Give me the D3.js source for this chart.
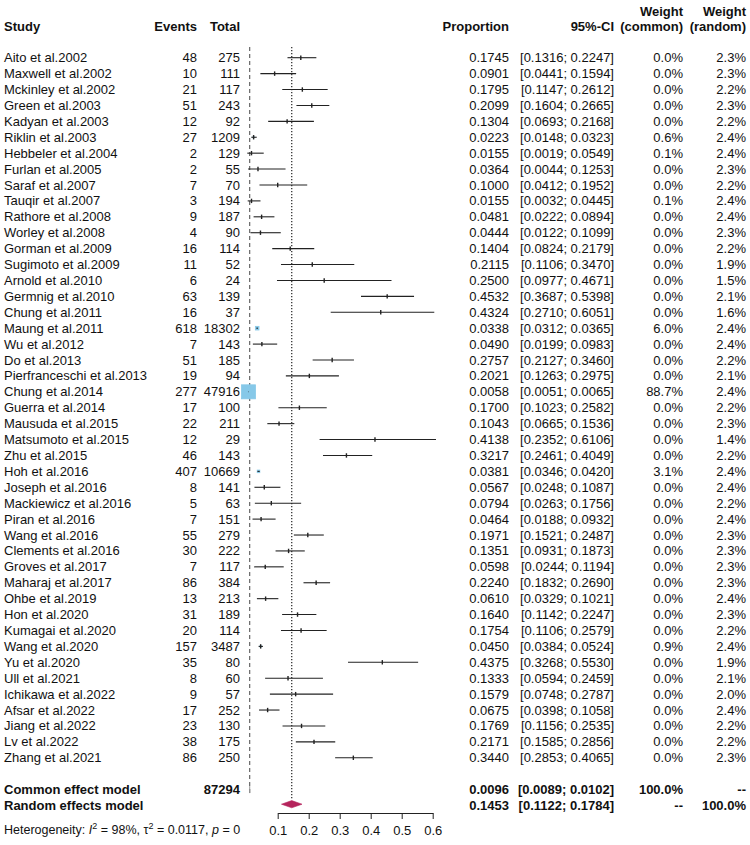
<!DOCTYPE html>
<html>
<head>
<meta charset="utf-8">
<script src="https://cdn.jsdelivr.net/npm/d3@7"></script>
<style>
  body { margin: 0; background: #fff; }
  svg text { font-family: "Liberation Sans", Arial, sans-serif; font-size: 13px; fill: #111; }
  .bold { font-weight: bold; }
</style>
</head>
<body>
<svg id="chart"></svg>
<script>
const studies = ['Aito et al.2002', 'Maxwell et al.2002', 'Mckinley et al.2002', 'Green et al.2003', 'Kadyan et al.2003',
  'Riklin et al.2003', 'Hebbeler et al.2004', 'Furlan et al.2005', 'Saraf et al.2007', 'Tauqir et al.2007',
  'Rathore et al.2008', 'Worley et al.2008', 'Gorman et al.2009', 'Sugimoto et al.2009', 'Arnold et al.2010',
  'Germnig et al.2010', 'Chung et al.2011', 'Maung et al.2011', 'Wu et al.2012', 'Do et al.2013',
  'Pierfranceschi et al.2013', 'Chung et al.2014', 'Guerra et al.2014', 'Mausuda et al.2015', 'Matsumoto et al.2015',
  'Zhu et al.2015', 'Hoh et al.2016', 'Joseph et al.2016', 'Mackiewicz et al.2016', 'Piran et al.2016',
  'Wang et al.2016', 'Clements et al.2016', 'Groves et al.2017', 'Maharaj et al.2017', 'Ohbe et al.2019',
  'Hon et al.2020', 'Kumagai et al.2020', 'Wang et al.2020', 'Yu et al.2020', 'Ull et al.2021',
  'Ichikawa et al.2022', 'Afsar et al.2022', 'Jiang et al.2022', 'Lv et al.2022', 'Zhang et al.2021'];
const events = [48, 10, 21, 51, 12, 27, 2, 2, 7, 3, 9, 4, 16, 11, 6, 63, 16, 618, 7, 51, 19, 277, 17, 22, 12, 46, 407, 8, 5, 7,
  55, 30, 7, 86, 13, 31, 20, 157, 35, 8, 9, 17, 23, 38, 86];
const totals = [275, 111, 117, 243, 92, 1209, 129, 55, 70, 194, 187, 90, 114, 52, 24, 139, 37, 18302, 143, 185, 94, 47916,
  100, 211, 29, 143, 10669, 141, 63, 151, 279, 222, 117, 384, 213, 189, 114, 3487, 80, 60, 57, 252, 130, 175, 250];
const proportion = [0.1745, 0.0901, 0.1795, 0.2099, 0.1304, 0.0223, 0.0155, 0.0364, 0.1000, 0.0155, 0.0481, 0.0444,
  0.1404, 0.2115, 0.2500, 0.4532, 0.4324, 0.0338, 0.0490, 0.2757, 0.2021, 0.0058, 0.1700, 0.1043, 0.4138, 0.3217,
  0.0381, 0.0567, 0.0794, 0.0464, 0.1971, 0.1351, 0.0598, 0.2240, 0.0610, 0.1640, 0.1754, 0.0450, 0.4375, 0.1333,
  0.1579, 0.0675, 0.1769, 0.2171, 0.3440];
const ciLower = [0.1316, 0.0441, 0.1147, 0.1604, 0.0693, 0.0148, 0.0019, 0.0044, 0.0412, 0.0032, 0.0222, 0.0122,
  0.0824, 0.1106, 0.0977, 0.3687, 0.2710, 0.0312, 0.0199, 0.2127, 0.1263, 0.0051, 0.1023, 0.0665, 0.2352, 0.2461,
  0.0346, 0.0248, 0.0263, 0.0188, 0.1521, 0.0931, 0.0244, 0.1832, 0.0329, 0.1142, 0.1106, 0.0384, 0.3268, 0.0594,
  0.0748, 0.0398, 0.1156, 0.1585, 0.2853];
const ciUpper = [0.2247, 0.1594, 0.2612, 0.2665, 0.2168, 0.0323, 0.0549, 0.1253, 0.1952, 0.0445, 0.0894, 0.1099,
  0.2179, 0.3470, 0.4671, 0.5398, 0.6051, 0.0365, 0.0983, 0.3460, 0.2975, 0.0065, 0.2582, 0.1536, 0.6106, 0.4049,
  0.0420, 0.1087, 0.1756, 0.0932, 0.2487, 0.1873, 0.1194, 0.2690, 0.1021, 0.2247, 0.2579, 0.0524, 0.5530, 0.2459,
  0.2787, 0.1058, 0.2535, 0.2856, 0.4065];
const weightCommon = [0.0, 0.0, 0.0, 0.0, 0.0, 0.6, 0.1, 0.0, 0.0, 0.1, 0.0, 0.0, 0.0, 0.0, 0.0, 0.0, 0.0, 6.0, 0.0, 0.0,
  0.0, 88.7, 0.0, 0.0, 0.0, 0.0, 3.1, 0.0, 0.0, 0.0, 0.0, 0.0, 0.0, 0.0, 0.0, 0.0, 0.0, 0.9, 0.0, 0.0, 0.0, 0.0, 0.0, 0.0, 0.0];
const weightRandom = [2.3, 2.3, 2.2, 2.3, 2.2, 2.4, 2.4, 2.3, 2.2, 2.4, 2.4, 2.3, 2.2, 1.9, 1.5, 2.1, 1.6, 2.4, 2.4, 2.2,
  2.1, 2.4, 2.2, 2.3, 1.4, 2.2, 2.4, 2.4, 2.2, 2.4, 2.3, 2.3, 2.3, 2.3, 2.4, 2.3, 2.2, 2.4, 1.9, 2.1, 2.0, 2.4, 2.2, 2.2, 2.3];
const commonModel = { est: 0.0096, lo: 0.0089, hi: 0.0102, total: 87294 };
const randomModel = { est: 0.1453, lo: 0.1122, hi: 0.1784 };
const xTicks = [0.1, 0.2, 0.3, 0.4, 0.5, 0.6];

const width = 750, height = 845;
const svg = d3.select('#chart').attr('width', width).attr('height', height);

const x = d3.scaleLinear().domain([0, 0.6]).range([246.7, 432.7]);
// row index -> y centre (45 studies, one blank row, then the two models)
const y = d3.scaleLinear().domain([0, 47]).range([57.7, 805.5]);

const col = { study: 4, events: 197, total: 240, prop: 509, ci: 614, wc: 683, wr: 746 };
const fmt4 = d3.format('.4f');
const fmt1 = d => d3.format('.1f')(d) + '%';
const ciText = (lo, hi) => `[${fmt4(lo)}; ${fmt4(hi)}]`;

function cell(g, xPos, yPos, txt, anchor, bold) {
  g.append('text')
    .attr('x', xPos).attr('y', yPos).attr('dy', '0.35em')
    .attr('text-anchor', anchor)
    .attr('class', bold ? 'bold' : null)
    .text(txt);
}

// header
const head = svg.append('g');
cell(head, col.study, 26.7, 'Study', 'start', true);
cell(head, col.events, 26.7, 'Events', 'end', true);
cell(head, col.total, 26.7, 'Total', 'end', true);
cell(head, col.prop, 26.7, 'Proportion', 'end', true);
cell(head, col.ci, 26.7, '95%-CI', 'end', true);
cell(head, col.wc, 11.7, 'Weight', 'end', true);
cell(head, col.wc, 26.7, '(common)', 'end', true);
cell(head, col.wr, 11.7, 'Weight', 'end', true);
cell(head, col.wr, 26.7, '(random)', 'end', true);

// reference lines
svg.append('line')
  .attr('x1', x(commonModel.est)).attr('x2', x(commonModel.est))
  .attr('y1', 47).attr('y2', 795)
  .attr('stroke', '#666').attr('stroke-width', 1.2).attr('stroke-dasharray', '4,3');
svg.append('line')
  .attr('x1', x(randomModel.est)).attr('x2', x(randomModel.est))
  .attr('y1', 47).attr('y2', 800)
  .attr('stroke', '#222').attr('stroke-width', 1.2).attr('stroke-dasharray', '1.2,1.8');

// study rows
const rows = svg.append('g');
studies.forEach((s, i) => {
  const yy = y(i);
  cell(rows, col.study, yy, s, 'start');
  cell(rows, col.events, yy, events[i], 'end');
  cell(rows, col.total, yy, totals[i], 'end');
  cell(rows, col.prop, yy, fmt4(proportion[i]), 'end');
  cell(rows, col.ci, yy, ciText(ciLower[i], ciUpper[i]), 'end');
  cell(rows, col.wc, yy, fmt1(weightCommon[i]), 'end');
  cell(rows, col.wr, yy, fmt1(weightRandom[i]), 'end');
});

const marks = svg.append('g');
const sq = w => 14 * Math.sqrt(w / 88.7);
marks.selectAll('rect.box')
  .data(studies.map((s, i) => i).filter(i => weightCommon[i] > 0.5))
  .enter().append('rect')
  .attr('class', 'box')
  .attr('x', i => x(proportion[i]) - sq(weightCommon[i]) / 2)
  .attr('y', i => y(i) - sq(weightCommon[i]) / 2)
  .attr('width', i => sq(weightCommon[i]))
  .attr('height', i => sq(weightCommon[i]))
  .attr('fill', '#86c8e8').attr('stroke', '#86c8e8').attr('stroke-width', 0.8);

marks.selectAll('line.ci')
  .data(studies.map((s, i) => i))
  .enter().append('line')
  .attr('class', 'ci')
  .attr('x1', i => x(ciLower[i])).attr('x2', i => x(ciUpper[i]))
  .attr('y1', i => y(i)).attr('y2', i => y(i))
  .attr('stroke', '#222').attr('stroke-width', 1.1);

marks.selectAll('line.est')
  .data(studies.map((s, i) => i).filter(i => weightCommon[i] < 2))
  .enter().append('line')
  .attr('class', 'est')
  .attr('x1', i => x(proportion[i])).attr('x2', i => x(proportion[i]))
  .attr('y1', i => y(i) - 2.2).attr('y2', i => y(i) + 2.2)
  .attr('stroke', '#222').attr('stroke-width', 1.4);

// summary rows
const yc = y(46), yr = y(47);
cell(rows, col.study, yc, 'Common effect model', 'start', true);
cell(rows, col.total, yc, commonModel.total, 'end', true);
cell(rows, col.prop, yc, fmt4(commonModel.est), 'end', true);
cell(rows, col.ci, yc, ciText(commonModel.lo, commonModel.hi), 'end', true);
cell(rows, col.wc, yc, '100.0%', 'end', true);
cell(rows, col.wr, yc, '--', 'end', true);
cell(rows, col.study, yr, 'Random effects model', 'start', true);
cell(rows, col.prop, yr, fmt4(randomModel.est), 'end', true);
cell(rows, col.ci, yr, ciText(randomModel.lo, randomModel.hi), 'end', true);
cell(rows, col.wc, yr, '--', 'end', true);
cell(rows, col.wr, yr, '100.0%', 'end', true);

const diamond = (m, yy, h) => [[x(m.lo), yy], [x(m.est), yy - h], [x(m.hi), yy], [x(m.est), yy + h]];
marks.append('polygon')
  .attr('points', diamond(commonModel, yc, 3.5).join(' '))
  .attr('fill', '#999').attr('stroke', '#999').attr('stroke-width', 0.6);
marks.append('polygon')
  .attr('points', diamond(randomModel, yr - 1.3, 3.6).join(' '))
  .attr('fill', '#b5245c').attr('stroke', '#b5245c').attr('stroke-width', 0.6);

// x axis
const xAxisScale = d3.scaleLinear().domain([0.1, 0.6]).range([x(0.1), x(0.6)]);
const axis = svg.append('g')
  .attr('transform', 'translate(0, 813)')
  .call(d3.axisBottom(xAxisScale).tickValues(xTicks).tickFormat(d3.format('.1f')).tickSize(6).tickSizeOuter(0).tickPadding(7));
axis.select('.domain').attr('stroke', '#222');
axis.selectAll('.tick line').attr('stroke', '#222');
axis.selectAll('.tick text').attr('font-size', 13).attr('fill', '#111')
  .attr('font-family', '"Liberation Sans", Arial, sans-serif');

// heterogeneity
const het = svg.append('text').attr('x', 4).attr('y', 830).attr('dy', '0.35em').style('font-size', '12.5px');
het.append('tspan').text('Heterogeneity: ');
het.append('tspan').attr('font-style', 'italic').text('I');
het.append('tspan').attr('baseline-shift', 'super').style('font-size', '9px').text('2');
het.append('tspan').text(' = 98%, \u03c4');
het.append('tspan').attr('baseline-shift', 'super').style('font-size', '9px').text('2');
het.append('tspan').text(' = 0.0117, ');
het.append('tspan').attr('font-style', 'italic').text('p');
het.append('tspan').text(' = 0');
</script>
</body>
</html>
